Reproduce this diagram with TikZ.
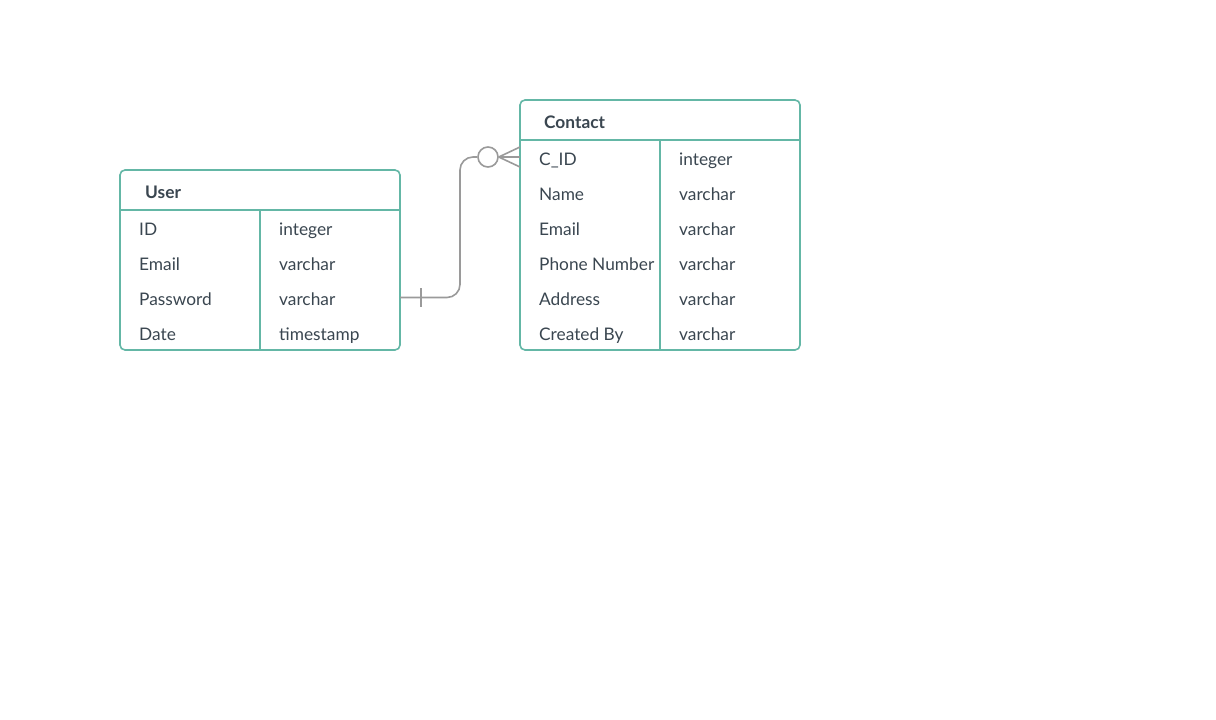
\documentclass[tikz,border=0pt]{standalone}
\usepackage{fontspec}
\setmainfont{Lato}
\usetikzlibrary{positioning}
\definecolor{tableline}{HTML}{64B7A6}
\definecolor{fieldtext}{HTML}{3A4650}
\definecolor{linkline}{HTML}{9A9A9A}

\tikzset{
  tablebox/.style={draw=tableline, line width=1.6pt, rounded corners=5pt, inner sep=0pt},
  sepline/.style={draw=tableline, line width=1.6pt},
  title/.style={anchor=base west, inner sep=0pt, text=fieldtext, font=\fontsize{17.3}{20}\selectfont\bfseries},
  field/.style={anchor=base west, inner sep=0pt, text=fieldtext, font=\fontsize{17.3}{20}\selectfont},
  link/.style={draw=linkline, line width=1.6pt}
}

\begin{document}
\begin{tikzpicture}[x=1pt,y=-1pt]
\useasboundingbox[fill=white] (0,0) rectangle (1216,720);

% User table
\node[tablebox, minimum width=280pt, minimum height=180pt] (user) at (260,260) {};
\draw[sepline] (120,210) -- (400,210);
\draw[sepline] (260,210) -- (260,350);
\node[title] (user-title) at (145,198.5) {User};
\foreach \y/\n/\f/\t in {229/id/ID/integer, 264/email/Email/varchar, 299/pass/Password/varchar, 334/date/Date/timestamp}
{
  \node[field] (u-\n) at (139,\y+6.5) {\f};
  \node[field] (u-\n-type) at (279,\y+6.5) {\t};
}

% Contact table
\node[tablebox, minimum width=280pt, minimum height=250pt] (contact) at (660,225) {};
\draw[sepline] (520,140) -- (800,140);
\draw[sepline] (660,140) -- (660,350);
\node[title] (contact-title) at (544,128.5) {Contact};
\foreach \y/\n/\f/\t in {159/cid/C\_ID/integer, 194/name/Name/varchar, 229/email/Email/varchar, 264/phone/Phone Number/varchar, 299/addr/Address/varchar, 334/by/Created By/varchar}
{
  \node[field] (c-\n) at (539,\y+6.5) {\f};
  \node[field] (c-\n-type) at (679,\y+6.5) {\t};
}

% one User to zero or many Contacts
\coordinate (u-link) at (400,297.5);
\coordinate (bend) at (460,157);
\coordinate (foot-top) at (520,147);
\coordinate (foot-mid) at (520,157);
\coordinate (foot-bot) at (520,167);
\node[circle, link, minimum size=20pt, inner sep=0pt] (zero) at (488,157) {};
\draw[link, rounded corners=13pt] (u-link) -| (bend) -- (zero.west);
\draw[link] (421,288) -- (421,307);
\draw[link] (zero.east) -- (foot-top);
\draw[link] (zero.east) -- (foot-mid);
\draw[link] (zero.east) -- (foot-bot);
\end{tikzpicture}
\end{document}
